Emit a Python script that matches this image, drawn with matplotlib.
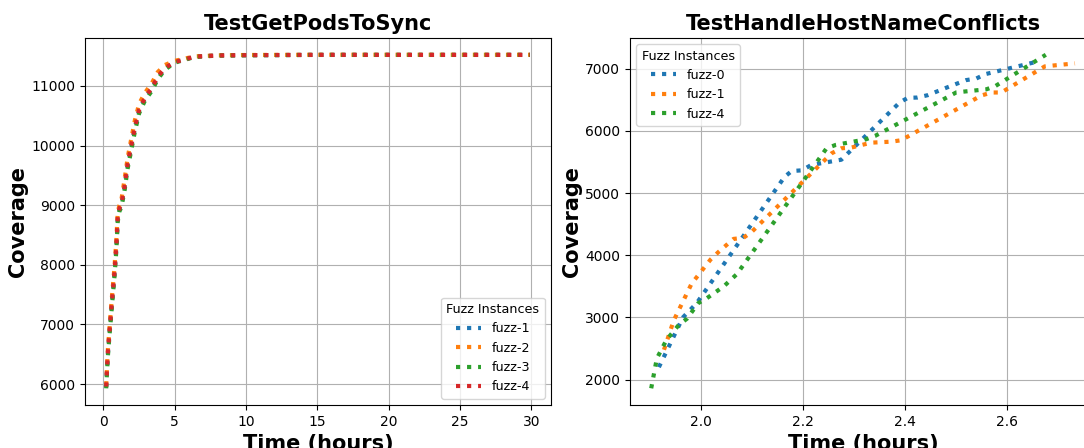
import matplotlib
matplotlib.use('Agg')
import matplotlib.pyplot as plt

# left panel: TestGetPodsToSync
pods_time = [0.19, 0.3, 0.42, 0.6, 0.77, 0.9, 1.0, 1.12, 1.25, 1.47, 1.7, 1.94, 2.2, 2.5,
             2.9, 3.4, 3.8, 4.3, 5.0, 6.4, 8.0, 10.0, 15.0, 20.0, 29.9]
pods_fuzz1 = [5950, 6480, 6850, 7380, 7850, 8280, 8780, 8940, 9000, 9290, 9680, 9970, 10290, 10590,
              10790, 10960, 11140, 11290, 11400, 11490, 11510, 11515, 11520, 11520, 11520]
pods_fuzz2 = [5980, 6550, 6930, 7480, 7950, 8400, 8880, 9000, 9080, 9420, 9800, 10100, 10420, 10700,
              10880, 11050, 11230, 11350, 11420, 11495, 11512, 11518, 11522, 11522, 11522]
pods_fuzz3 = [5930, 6440, 6810, 7330, 7800, 8230, 8720, 8900, 8960, 9230, 9620, 9910, 10230, 10540,
              10750, 10920, 11110, 11270, 11390, 11485, 11508, 11514, 11519, 11519, 11519]
pods_fuzz4 = [5960, 6500, 6870, 7400, 7870, 8300, 8800, 8950, 9010, 9300, 9700, 9990, 10300, 10600,
              10800, 10970, 11150, 11300, 11400, 11490, 11510, 11515, 11520, 11520, 11520]

# right panel: TestHandleHostNameConflicts
host_t0 = [1.918, 1.965, 1.992, 2.164, 2.178, 2.198, 2.216, 2.275, 2.389, 2.405, 2.424, 2.444,
           2.482, 2.519, 2.539, 2.557, 2.652]
host_c0 = [2200, 3000, 3230, 5263, 5355, 5366, 5452, 5537, 6457, 6532, 6537, 6575,
           6700, 6817, 6843, 6914, 7102]
host_t1 = [1.928, 1.947, 1.982, 2.019, 2.034, 2.064, 2.083, 2.099, 2.256, 2.275, 2.294, 2.333,
           2.373, 2.392, 2.549, 2.569, 2.588, 2.673, 2.692, 2.732]
host_c1 = [2480, 2950, 3543, 3930, 4048, 4263, 4279, 4371, 5640, 5721, 5731, 5811,
           5827, 5850, 6570, 6618, 6618, 7038, 7054, 7086]
host_t4 = [1.903, 1.914, 1.933, 1.957, 1.973, 1.995, 2.012, 2.045, 2.071, 2.083, 2.246, 2.264,
           2.323, 2.341, 2.500, 2.559, 2.576, 2.675]
host_c4 = [1860, 2340, 2640, 2880, 2980, 3230, 3310, 3500, 3700, 3840, 5720, 5775,
           5865, 5920, 6620, 6670, 6720, 7225]

fig = plt.figure(figsize=(10.84, 4.48), dpi=100)
ax1 = fig.add_axes([0.0784, 0.096, 0.430, 0.819])
ax2 = fig.add_axes([0.5812, 0.096, 0.430, 0.819])

colors = ['#1f77b4', '#ff7f0e', '#2ca02c', '#d62728']

for y, name, c in zip([pods_fuzz1, pods_fuzz2, pods_fuzz3, pods_fuzz4],
                      ['fuzz-1', 'fuzz-2', 'fuzz-3', 'fuzz-4'], colors):
    ax1.plot(pods_time, y, linestyle=':', linewidth=3, color=c, label=name)
ax1.set_title('TestGetPodsToSync', fontsize=15, fontweight='bold')
ax1.set_xlabel('Time (hours)', fontsize=15, fontweight='bold')
ax1.set_ylabel('Coverage', fontsize=15, fontweight='bold', labelpad=2)
ax1.grid(True)
ax1.legend(title='Fuzz Instances', loc='lower right', fontsize=9.2, title_fontsize=9.2)

for t, y, name, c in zip([host_t0, host_t1, host_t4], [host_c0, host_c1, host_c4],
                         ['fuzz-0', 'fuzz-1', 'fuzz-4'], colors):
    ax2.plot(t, y, linestyle=':', linewidth=3, color=c, label=name)
ax2.set_title('TestHandleHostNameConflicts', fontsize=15, fontweight='bold')
ax2.set_xlabel('Time (hours)', fontsize=15, fontweight='bold')
ax2.set_ylabel('Coverage', fontsize=15, fontweight='bold', labelpad=2)
ax2.grid(True)
ax2.legend(title='Fuzz Instances', loc='upper left', fontsize=9.2, title_fontsize=9.2)

fig.savefig('out.png', dpi=100)
